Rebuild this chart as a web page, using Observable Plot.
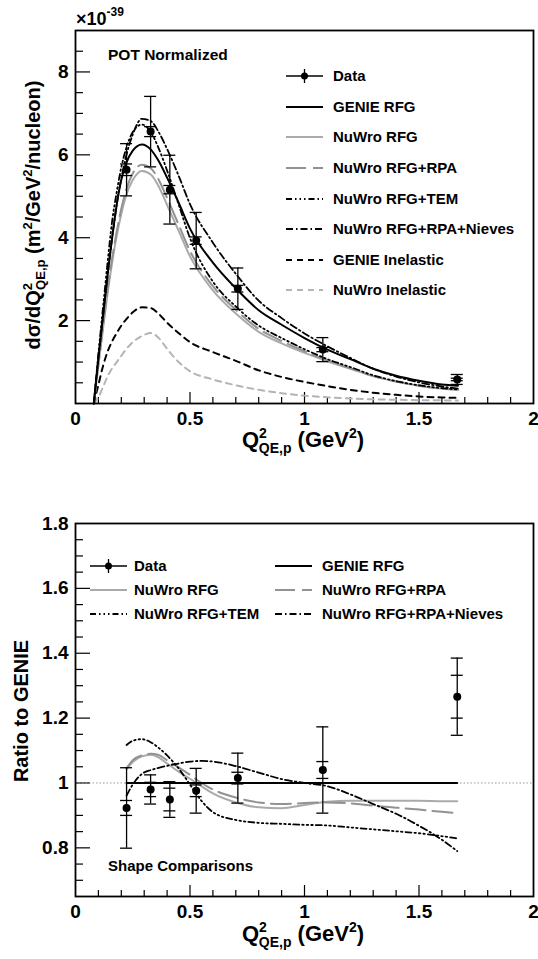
<!DOCTYPE html>
<html><head><meta charset="utf-8">
<script src="https://cdn.jsdelivr.net/npm/d3@7"></script>
<script src="https://cdn.jsdelivr.net/npm/@observablehq/plot@0.6"></script>
<style>
body{margin:0;background:#fff;width:538px;height:959px;overflow:hidden;position:relative;}
#top,#bot{position:absolute;left:0;}
#top{top:0} #bot{top:460px}
svg{display:block}
</style></head><body>
<div id="top"></div><div id="bot"></div>
<script>
// ---------- DATA ----------
// Top panel: differential cross section (x10^-39 m^2/GeV^2/nucleon)
const xTop = [0.08,0.1,0.12,0.14,0.16,0.18,0.2,0.22,0.25,0.29,0.33,0.36,0.4,0.45,0.5,0.6,0.7,0.8,0.9,1.0,1.1,1.2,1.3,1.4,1.5,1.6,1.67];
const genieRFG    = [0,1.1,2.1,3.1,4.0,4.8,5.4,5.78,6.1,6.25,6.12,5.88,5.45,4.85,4.22,3.4,2.78,2.25,1.9,1.58,1.3,1.07,0.84,0.67,0.55,0.46,0.43];
const nuwroRFG    = [0,0.9,1.8,2.65,3.4,4.05,4.57,5.0,5.39,5.61,5.52,5.27,4.79,4.17,3.55,2.73,2.17,1.73,1.45,1.22,1.02,0.84,0.66,0.53,0.43,0.36,0.34];
const nuwroRPA    = [0,0.95,1.85,2.75,3.5,4.15,4.7,5.13,5.55,5.76,5.67,5.43,4.96,4.32,3.68,2.83,2.26,1.8,1.51,1.26,1.04,0.85,0.66,0.53,0.43,0.36,0.33];
const nuwroTEM    = [0,1.2,2.3,3.4,4.4,5.1,5.7,6.13,6.55,6.73,6.54,6.2,5.62,4.81,3.99,2.94,2.34,1.88,1.58,1.31,1.07,0.88,0.68,0.54,0.44,0.37,0.34];
const nuwroNieves = [0,1.1,2.1,3.1,4.0,4.8,5.43,5.94,6.49,6.87,6.81,6.58,6.14,5.5,4.81,3.88,3.13,2.48,2.06,1.69,1.38,1.1,0.84,0.65,0.51,0.41,0.36];
const genieInel   = [0,0.45,0.9,1.25,1.5,1.7,1.88,2.02,2.2,2.32,2.3,2.18,1.95,1.7,1.48,1.24,1.03,0.8,0.64,0.52,0.42,0.33,0.26,0.21,0.17,0.145,0.135];
const nuwroInel   = [0,0.15,0.4,0.65,0.85,1.0,1.15,1.3,1.48,1.63,1.7,1.6,1.32,1.0,0.78,0.58,0.44,0.33,0.25,0.19,0.15,0.12,0.1,0.09,0.08,0.075,0.07];

const dataX    = [0.223,0.328,0.412,0.527,0.709,1.08,1.667];
const dataY    = [5.64,6.56,5.16,3.93,2.77,1.30,0.58];
const dataTot  = [0.63,0.85,0.83,0.68,0.50,0.29,0.12];
const dataStat = [0.14,0.12,0.10,0.09,0.08,0.05,0.03];

// Bottom panel: ratio to GENIE (shape)
const xRatio = [0.223,0.25,0.29,0.33,0.36,0.4,0.45,0.5,0.55,0.6,0.7,0.8,0.9,1.0,1.1,1.2,1.3,1.4,1.5,1.6,1.667];
const genieRatio  = [1,1,1,1,1,1,1,1,1,1,1,1,1,1,1,1,1,1,1,1,1];
const rfgRatio    = [1.043,1.065,1.082,1.087,1.08,1.06,1.035,1.013,0.99,0.968,0.94,0.925,0.922,0.932,0.942,0.945,0.945,0.945,0.945,0.944,0.944];
const rpaRatio    = [1.045,1.07,1.085,1.09,1.087,1.07,1.048,1.025,1.0,0.98,0.955,0.94,0.935,0.938,0.94,0.937,0.93,0.924,0.918,0.911,0.907];
const temRatio    = [1.117,1.13,1.135,1.125,1.11,1.085,1.045,0.995,0.945,0.91,0.886,0.877,0.874,0.871,0.869,0.863,0.857,0.851,0.845,0.836,0.829];
const nievesRatio = [0.961,0.995,1.028,1.04,1.046,1.053,1.06,1.066,1.068,1.066,1.052,1.032,1.012,1.0,0.99,0.965,0.935,0.905,0.868,0.825,0.79];

const ratioY    = [0.923,0.98,0.949,0.976,1.015,1.04,1.266];
const ratioTot  = [0.124,0.045,0.055,0.069,0.077,0.133,0.119];
const ratioStat = [0.023,0.022,0.035,0.018,0.018,0.026,0.066];

// Ticks and labels
const xTickVals = [0,0.5,1,1.5,2];
const xTickLabels = ["0","0.5","1","1.5","2"];
const xMajor = [0.5,1,1.5];
const xMinor = [0.1,0.2,0.3,0.4,0.6,0.7,0.8,0.9,1.1,1.2,1.3,1.4,1.6,1.7,1.8,1.9];
const yTopMajor = [2,4,6,8];
const yTopLabels = ["2","4","6","8"];
const yTopMinor = [0.5,1,1.5,2.5,3,3.5,4.5,5,5.5,6.5,7,7.5,8.5];
const yBotMajor = [0.8,1,1.2,1.4,1.6];
const yBotLabelVals = [0.8,1,1.2,1.4,1.6,1.8];
const yBotLabels = ["0.8","1","1.2","1.4","1.6","1.8"];
const yBotMinor = [0.7,0.75,0.85,0.9,0.95,1.05,1.1,1.15,1.25,1.3,1.35,1.45,1.5,1.55,1.65,1.7,1.75];

// ---------- STYLE ----------
const F = "'Liberation Sans', Arial, Helvetica, sans-serif";
const S = {
  genie:  {stroke:"#000", strokeWidth:2},
  rfg:    {stroke:"#aaa", strokeWidth:2},
  rpa:    {stroke:"#929292", strokeWidth:2, strokeDasharray:"20,7"},
  tem:    {stroke:"#000", strokeWidth:1.8, strokeDasharray:"6,3,1.5,3,1.5,3,1.5,3"},
  nieves: {stroke:"#000", strokeWidth:1.8, strokeDasharray:"7,3,1.5,3"},
  ginel:  {stroke:"#000", strokeWidth:2, strokeDasharray:"6,5"},
  ninel:  {stroke:"#b4b4b4", strokeWidth:2, strokeDasharray:"6,5"}
};
const rows = (xs, ys) => xs.map((x, i) => ({x, y: ys[i]}));
const pts = (xs, ys, tot, stat) => xs.map((x, i) => ({x, y: ys[i], tot: tot[i], stat: stat[i]}));

function axisMarks(fw, fh, yMaj, yMin, yLabVals, yLabs) {
  return [
    Plot.tickY(yMin, {y: d => d, insetRight: fw - 8, stroke: "#000", strokeWidth: 1.2}),
    Plot.tickY(yMaj, {y: d => d, insetRight: fw - 15, stroke: "#000", strokeWidth: 1.2}),
    Plot.tickX(xMinor, {x: d => d, insetTop: fh - 6, stroke: "#000", strokeWidth: 1.2}),
    Plot.tickX(xMajor, {x: d => d, insetTop: fh - 11, stroke: "#000", strokeWidth: 1.2}),
    Plot.text(yLabVals, {y: d => d, text: (d, i) => yLabs[i], frameAnchor: "left", dx: -7, textAnchor: "end", fontSize: 19, fontWeight: "bold", fill: "#000"}),
    Plot.text(xTickVals, {x: d => d, text: (d, i) => xTickLabels[i], frameAnchor: "bottom", lineAnchor: "bottom", dy: 21, fontSize: 19, fontWeight: "bold", fill: "#000"})
  ];
}
function dataMarks(p) {
  return [
    Plot.ruleX(p, {x: "x", y1: d => d.y - d.tot, y2: d => d.y + d.tot, stroke: "#000", strokeWidth: 1.3}),
    Plot.ruleY(p, {y: d => d.y + d.tot, x1: "x", x2: "x", insetLeft: -6, insetRight: -6, stroke: "#000", strokeWidth: 1.3}),
    Plot.ruleY(p, {y: d => d.y - d.tot, x1: "x", x2: "x", insetLeft: -6, insetRight: -6, stroke: "#000", strokeWidth: 1.3}),
    Plot.ruleY(p, {y: d => d.y + d.stat, x1: "x", x2: "x", insetLeft: -6, insetRight: -6, stroke: "#000", strokeWidth: 1.3}),
    Plot.ruleY(p, {y: d => d.y - d.stat, x1: "x", x2: "x", insetLeft: -6, insetRight: -6, stroke: "#000", strokeWidth: 1.3}),
    Plot.dot(p, {x: "x", y: "y", r: 4, fill: "#000", stroke: "none"})
  ];
}
const line = (xs, ys, st) => Plot.line(rows(xs, ys), {x: "x", y: "y", curve: "monotone-x", fill: "none", ...st});

// ---------- TOP PANEL ----------
const topSvg = Plot.plot({
  width: 538, height: 460, marginLeft: 75, marginRight: 5, marginTop: 30, marginBottom: 57,
  x: {domain: [0, 2], axis: null}, y: {domain: [0, 9], axis: null},
  style: {fontFamily: F, background: "#fff", overflow: "visible"},
  marks: [
    ...axisMarks(458, 373, yTopMajor, yTopMinor, yTopMajor, yTopLabels),
    line(xTop, nuwroInel, S.ninel),
    line(xTop, genieInel, S.ginel),
    line(xTop, nuwroRFG, S.rfg),
    line(xTop, nuwroRPA, S.rpa),
    line(xTop, nuwroTEM, S.tem),
    line(xTop, nuwroNieves, S.nieves),
    line(xTop, genieRFG, S.genie),
    ...dataMarks(pts(dataX, dataY, dataTot, dataStat)),
    Plot.frame({stroke: "#000", strokeWidth: 1.8})
  ]
});
document.getElementById("top").append(topSvg);

// ---------- BOTTOM PANEL ----------
const botSvg = Plot.plot({
  width: 538, height: 499, marginLeft: 75, marginRight: 5, marginTop: 63, marginBottom: 63,
  x: {domain: [0, 2], axis: null}, y: {domain: [0.65, 1.8], axis: null},
  style: {fontFamily: F, background: "#fff", overflow: "visible"},
  marks: [
    ...axisMarks(458, 373, yBotMajor, yBotMinor, yBotLabelVals, yBotLabels),
    Plot.ruleY([1], {stroke: "#9a9a9a", strokeWidth: 1, strokeDasharray: "1.5,2"}),
    line(xRatio, rfgRatio, S.rfg),
    line(xRatio, rpaRatio, S.rpa),
    line(xRatio, temRatio, S.tem),
    line(xRatio, nievesRatio, S.nieves),
    line(xRatio, genieRatio, S.genie),
    ...dataMarks(pts(dataX, ratioY, ratioTot, ratioStat)),
    Plot.frame({stroke: "#000", strokeWidth: 1.8})
  ]
});
document.getElementById("bot").append(botSvg);

// ---------- TEXT & LEGENDS ----------
function rich(svg, {x, y, rotate = 0, anchor = "start", size, weight = "bold", parts}) {
  const t = svg.append("text")
    .attr("transform", `translate(${x},${y}) rotate(${rotate})`)
    .attr("text-anchor", anchor).attr("font-family", F).attr("font-weight", weight)
    .attr("font-size", size).attr("fill", "#000");
  parts.forEach(p => {
    const ts = t.append("tspan").text(p.t);
    if (p.size) ts.attr("font-size", p.size);
    if (p.dy) ts.attr("dy", p.dy);
    if (p.dx) ts.attr("dx", p.dx);
  });
}
function legend(svg, entries) {
  entries.forEach(e => {
    const g = svg.append("g");
    const st = S[e.key];
    if (e.key === "data") {
      g.append("line").attr("x1", e.x0).attr("x2", e.x1).attr("y1", e.y).attr("y2", e.y).attr("stroke", "#000").attr("stroke-width", 1.3);
      const cx = (e.x0 + e.x1) / 2;
      g.append("line").attr("x1", cx).attr("x2", cx).attr("y1", e.y - 7).attr("y2", e.y + 7).attr("stroke", "#000").attr("stroke-width", 1.3);
      g.append("circle").attr("cx", cx).attr("cy", e.y).attr("r", 3.5).attr("fill", "#000");
    } else {
      const l = g.append("line").attr("x1", e.x0).attr("x2", e.x1).attr("y1", e.y).attr("y2", e.y)
        .attr("stroke", st.stroke).attr("stroke-width", st.strokeWidth);
      if (st.strokeDasharray) l.attr("stroke-dasharray", st.strokeDasharray);
    }
    g.append("text").attr("x", e.tx).attr("y", e.y).attr("dy", "0.36em").attr("text-anchor", "start")
      .attr("font-family", F).attr("font-weight", "bold").attr("font-size", 15).attr("fill", "#000").text(e.label);
  });
}

const ts = d3.select(topSvg);
rich(ts, {x: 76, y: 25, size: 18, parts: [{t: "×10"}, {t: "-39", size: 12, dy: -9}]});
rich(ts, {x: 108, y: 60, size: 15.5, parts: [{t: "POT Normalized"}]});
rich(ts, {x: 40, y: 215, rotate: -90, anchor: "middle", size: 20, parts: [
  {t: "dσ/dQ"}, {t: "2", size: 13, dy: -8}, {t: "QE,p", size: 13, dx: -7, dy: 13},
  {t: " (m", dy: -5}, {t: "2", size: 13, dy: -8}, {t: "/GeV", dy: 8}, {t: "2", size: 13, dy: -8}, {t: "/nucleon)", dy: 8}
]});
rich(ts, {x: 303, y: 447, anchor: "middle", size: 22, parts: [
  {t: "Q"}, {t: "2", size: 14, dy: -9}, {t: "QE,p", size: 14, dx: -8, dy: 15},
  {t: " (GeV", dy: -6}, {t: "2", size: 14, dy: -9}, {t: ")", dy: 9}
]});
legend(ts, [
  {key: "data",   label: "Data",                 y: 76,  x0: 286, x1: 323, tx: 333},
  {key: "genie",  label: "GENIE RFG",            y: 107, x0: 286, x1: 323, tx: 333},
  {key: "rfg",    label: "NuWro RFG",            y: 137, x0: 286, x1: 323, tx: 333},
  {key: "rpa",    label: "NuWro RFG+RPA",        y: 168, x0: 286, x1: 323, tx: 333},
  {key: "tem",    label: "NuWro RFG+TEM",        y: 199, x0: 286, x1: 323, tx: 333},
  {key: "nieves", label: "NuWro RFG+RPA+Nieves", y: 229, x0: 286, x1: 323, tx: 333},
  {key: "ginel",  label: "GENIE Inelastic",      y: 260, x0: 286, x1: 323, tx: 333},
  {key: "ninel",  label: "NuWro Inelastic",      y: 290, x0: 286, x1: 323, tx: 333}
]);

const bs = d3.select(botSvg);
rich(bs, {x: 28, y: 251, rotate: -90, anchor: "middle", size: 20, parts: [{t: "Ratio to GENIE"}]});
rich(bs, {x: 108, y: 411, size: 15, parts: [{t: "Shape Comparisons"}]});
rich(bs, {x: 303, y: 481, anchor: "middle", size: 22, parts: [
  {t: "Q"}, {t: "2", size: 14, dy: -9}, {t: "QE,p", size: 14, dx: -8, dy: 15},
  {t: " (GeV", dy: -6}, {t: "2", size: 14, dy: -9}, {t: ")", dy: 9}
]});
legend(bs, [
  {key: "data",   label: "Data",                 y: 106, x0: 90,  x1: 127, tx: 134},
  {key: "genie",  label: "GENIE RFG",            y: 106, x0: 275, x1: 312, tx: 322},
  {key: "rfg",    label: "NuWro RFG",            y: 130, x0: 90,  x1: 127, tx: 134},
  {key: "rpa",    label: "NuWro RFG+RPA",        y: 130, x0: 275, x1: 312, tx: 322},
  {key: "tem",    label: "NuWro RFG+TEM",        y: 154, x0: 90,  x1: 127, tx: 134},
  {key: "nieves", label: "NuWro RFG+RPA+Nieves", y: 154, x0: 275, x1: 312, tx: 322}
]);
</script>
</body></html>
